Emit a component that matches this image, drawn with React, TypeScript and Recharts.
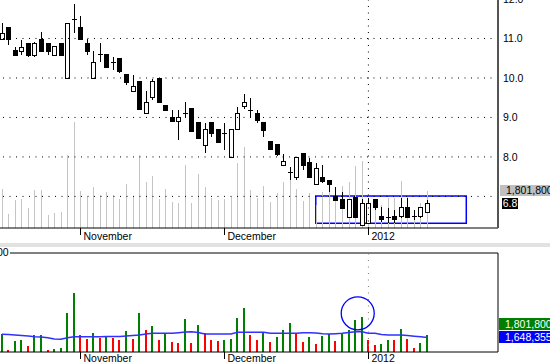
import {
  Bar,
  Cell,
  ComposedChart,
  Line,
  ReferenceArea,
  ReferenceDot,
  ReferenceLine,
  XAxis,
  YAxis,
} from 'recharts';

const FONT = '"Liberation Sans", Arial, sans-serif';

const dates = [
  '2011-10-14', '2011-10-17', '2011-10-18', '2011-10-19', '2011-10-20', '2011-10-21',
  '2011-10-24', '2011-10-25', '2011-10-26', '2011-10-27', '2011-10-28', '2011-10-31',
  '2011-11-01', '2011-11-02', '2011-11-03', '2011-11-04', '2011-11-07', '2011-11-08',
  '2011-11-09', '2011-11-10', '2011-11-11', '2011-11-14', '2011-11-15', '2011-11-16',
  '2011-11-17', '2011-11-18', '2011-11-21', '2011-11-22', '2011-11-23', '2011-11-24',
  '2011-11-25', '2011-11-28', '2011-11-29', '2011-11-30',
  '2011-12-01', '2011-12-02', '2011-12-05', '2011-12-06', '2011-12-07', '2011-12-08',
  '2011-12-09', '2011-12-12', '2011-12-13', '2011-12-14', '2011-12-15', '2011-12-16',
  '2011-12-19', '2011-12-20', '2011-12-21', '2011-12-22', '2011-12-23', '2011-12-26',
  '2011-12-27', '2011-12-28', '2011-12-29', '2011-12-30',
  '2012-01-02', '2012-01-03', '2012-01-04', '2012-01-05', '2012-01-06', '2012-01-09',
  '2012-01-10', '2012-01-11', '2012-01-12', '2012-01-13',
];

const opens = [
  10.99, 11.29, 10.71, 10.68, 10.89, 10.58, 10.99, 10.89, 10.58, 10.89,
  10.0, 11.48, 11.29, 10.89, 10.0, 10.61, 10.61, 10.41, 10.51, 10.1,
  9.67, 9.92, 9.11, 9.52, 10.0, 9.32, 9.01, 8.91, 9.11, 9.24,
  8.89, 8.3, 8.89, 8.71, 8.61, 8.0, 8.71, 9.29, 9.19, 9.11,
  8.89, 8.41, 8.33, 7.8, 7.62, 7.49, 8.1, 7.87, 7.32, 7.49,
  7.42, 7.01, 6.94, 6.48, 6.99, 6.28, 6.33, 6.94, 6.51, 6.48,
  6.51, 6.51, 6.73, 6.51, 6.51, 6.61,
];
const highs = [
  11.39, 11.29, 10.78, 10.96, 10.89, 10.91, 11.16, 10.89, 10.81, 10.89,
  11.39, 11.87, 11.57, 10.99, 10.68, 10.89, 10.61, 10.53, 10.51, 10.1,
  10.08, 9.92, 9.67, 9.97, 10.0, 9.32, 9.19, 9.19, 9.39, 9.24,
  8.89, 8.86, 8.89, 8.71, 8.86, 8.71, 9.27, 9.59, 9.49, 9.19,
  8.89, 8.41, 8.33, 8.08, 7.75, 8.0, 8.1, 7.97, 7.85, 7.8,
  7.42, 7.24, 7.11, 6.94, 6.99, 6.94, 6.96, 6.94, 6.73, 6.71,
  6.66, 6.96, 6.96, 6.66, 6.73, 6.91,
];
const lows = [
  10.98, 10.84, 10.58, 10.58, 10.53, 10.53, 10.68, 10.58, 10.58, 10.58,
  10.0, 11.14, 10.99, 10.58, 10.0, 10.41, 10.28, 10.2, 10.13, 9.82,
  9.67, 9.22, 9.11, 9.44, 9.37, 9.19, 8.91, 8.43, 9.01, 8.66,
  8.48, 8.1, 8.51, 8.38, 8.18, 8.0, 8.71, 9.22, 8.99, 8.86,
  8.51, 8.2, 8.03, 7.8, 7.42, 7.42, 7.67, 7.49, 7.32, 7.34,
  7.11, 6.91, 6.71, 6.48, 6.48, 6.28, 6.33, 6.66, 6.36, 6.33,
  6.33, 6.46, 6.46, 6.41, 6.46, 6.61,
];
const closes = [
  11.14, 10.99, 10.58, 10.78, 10.58, 10.89, 10.68, 10.68, 10.81, 10.58,
  11.39, 11.5, 10.99, 10.68, 10.41, 10.6, 10.28, 10.4, 10.18, 9.9,
  9.8, 9.22, 9.39, 9.92, 9.39, 9.19, 8.91, 9.01, 9.1, 8.66,
  8.48, 8.71, 8.61, 8.38, 8.6, 8.71, 9.11, 9.39, 9.18, 8.94,
  8.68, 8.2, 8.08, 7.9, 7.61, 8.0, 7.8, 7.49, 7.72, 7.39,
  7.32, 6.91, 6.71, 6.94, 6.48, 6.84, 6.84, 6.73, 6.43, 6.49,
  6.43, 6.73, 6.48, 6.5, 6.73, 6.84,
];

const volumes = [
  1920000, 680000, 1355000, 1410000, 955000, 1830000, 1830000, 630000, 735000, 800000,
  3560000, 5180000, 1810000, 1515000, 2010000, 1585000, 1730000, 1625000, 1435000, 2165000,
  1505000, 3575000, 2250000, 2550000, 1410000, 1915000, 1280000, 1200000, 3070000, 1225000,
  2610000, 2000000, 1465000, 1350000, 1430000, 1515000, 3160000, 3960000, 1855000, 1455000,
  2065000, 1265000, 1680000, 2230000, 2820000, 1918000, 1312000, 1706000, 1107000, 1761000,
  1918000, 1390000, 2021000, 2234000, 3022000, 3282000, 1446000, 1052000, 1130000, 1446000,
  1446000, 2312000, 1524000, 839000, 1233000, 1801800,
];
// 1 = green volume bar, 0 = red
const volumeUp = [
  1, 0, 1, 1, 0, 1, 1, 0, 1, 1,
  1, 1, 0, 0, 1, 0, 1, 0, 0, 1,
  0, 1, 0, 1, 0, 1, 0, 0, 1, 0,
  1, 0, 0, 0, 1, 1, 1, 1, 0, 0,
  1, 0, 1, 1, 1, 0, 0, 1, 0, 1,
  1, 0, 1, 1, 1, 1, 0, 0, 1, 1,
  0, 1, 0, 0, 1, 1,
];
const volumeAvg = [
  1895000, 1879000, 1840000, 1800000, 1761000, 1706000, 1682000, 1627000, 1524000, 1501000,
  1627000, 1706000, 1706000, 1706000, 1706000, 1706000, 1721000, 1721000, 1721000, 1761000,
  1800000, 1840000, 1918000, 1974000, 1974000, 1974000, 1974000, 2021000, 2076000, 2100000,
  2037000, 1918000, 1918000, 1918000, 1918000, 1918000, 2052000, 2052000, 2052000, 2052000,
  2052000, 1974000, 1974000, 1974000, 1974000, 1974000, 2021000, 2021000, 1997000, 1942000,
  1918000, 1942000, 1974000, 2037000, 2100000, 2100000, 1974000, 1974000, 1879000, 1840000,
  1840000, 1840000, 1800000, 1745000, 1698000, 1648355,
];

const blankSlots = 10;
const priceTicks = [8, 9, 10, 11, 12];
const gridPrices = [7, 8, 9, 10, 11];
const monthTickIdx = [12, 34, 56];
const monthLabels = ['November', 'December', '2012'];

const table = Array.from({ length: dates.length + blankSlots }, (_, i) =>
  i < dates.length
    ? {
        i,
        date: dates[i],
        o: opens[i],
        h: highs[i],
        l: lows[i],
        c: closes[i],
        vol: volumes[i],
        up: volumeUp[i] === 1,
        avg: volumeAvg[i],
      }
    : { i },
);

function Candle(props: any) {
  const { x, y, width, height, payload } = props;
  if (!payload || payload.o == null) return <g />;
  const { o, h, l, c } = payload;
  const top = Math.min(y, y + height);
  const span = Math.abs(height);
  const py = (v: number) => (h === l ? top : top + ((h - v) / (h - l)) * span);
  const left = Math.round(x + width / 2 - 2.5);
  const mid = left + 2.5;
  const bTop = py(Math.max(o, c));
  const bBot = py(Math.min(o, c));
  return (
    <g shapeRendering="crispEdges">
      <line x1={mid} x2={mid} y1={top} y2={top + span} stroke="#000" />
      {bBot - bTop < 1.5 ? (
        <line x1={left} x2={left + 5} y1={Math.round(bTop) + 0.5} y2={Math.round(bTop) + 0.5} stroke="#000" />
      ) : (
        <rect
          x={left + 0.5}
          y={Math.round(bTop) + 0.5}
          width={4}
          height={Math.max(1, Math.round(bBot - bTop))}
          fill={c >= o ? '#fff' : '#000'}
          stroke="#000"
        />
      )}
    </g>
  );
}

function GreyVolume(props: any) {
  const { x, y, width, height, payload } = props;
  if (!payload || payload.vol == null) return <g />;
  const px = Math.round(x + width / 2 - 2.5) + 2;
  return <rect x={px} y={y} width={1} height={height} fill="#c4c4c4" shapeRendering="crispEdges" />;
}

function ColorVolume(props: any) {
  const { x, y, width, height, payload } = props;
  if (!payload || payload.vol == null) return <g />;
  const px = Math.round(x + width / 2 - 1);
  return (
    <rect
      x={px}
      y={y}
      width={2}
      height={height}
      fill={payload.up ? '#008000' : '#ff0000'}
      shapeRendering="crispEdges"
    />
  );
}

function MonthTick({ x, y, payload, textDy }: any) {
  const k = monthTickIdx.indexOf(payload.value);
  return (
    <g>
      <line x1={Math.round(x) + 0.5} x2={Math.round(x) + 0.5} y1={y} y2={y + 7} stroke="#000" />
      <text x={x + 3} y={y + textDy} fontSize={10.5} fontFamily={FONT} fill="#000">
        {monthLabels[k]}
      </text>
    </g>
  );
}

const boxText = {
  position: 'absolute' as const,
  fontSize: 10.5,
  lineHeight: '11px',
  fontFamily: FONT,
  whiteSpace: 'nowrap' as const,
};

export default function App() {
  return (
    <div
      style={{
        position: 'absolute',
        left: 0,
        top: 0,
        width: 550,
        height: 364,
        overflow: 'hidden',
        background: '#fff',
        fontFamily: FONT,
      }}
    >
      <div style={{ position: 'absolute', left: -2, top: -1 }}>
        <ComposedChart width={552} height={251} data={table} margin={{ top: 0, right: 0, bottom: 0, left: 0.7 }}>
          <XAxis
            dataKey="i"
            type="category"
            padding={{ left: 0, right: 2 }}
            ticks={monthTickIdx}
            interval={0}
            height={22}
            tickSize={0}
            tickMargin={0}
            tickLine={false}
            axisLine={{ stroke: '#000' }}
            tick={<MonthTick textDy={12} />}
          />
          <XAxis xAxisId="v" dataKey="i" type="category" padding={{ left: 0, right: 2 }} hide />
          <YAxis
            orientation="right"
            width={52}
            domain={[6.2, 12]}
            allowDataOverflow
            ticks={priceTicks}
            interval={0}
            tickSize={0}
            tickMargin={5}
            tickLine={false}
            axisLine={{ stroke: '#555', strokeWidth: 2 }}
            tickFormatter={(v) => Number(v).toFixed(1)}
            tick={{ fill: '#000', fontSize: 10.5, fontFamily: FONT }}
          />
          <YAxis yAxisId="v" domain={[0, 11150000]} allowDataOverflow hide />
          <Bar
            xAxisId="v"
            yAxisId="v"
            dataKey="vol"
            barSize={1}
            shape={<GreyVolume />}
            isAnimationActive={false}
          />
          {gridPrices.map((p) => (
            <ReferenceLine key={p} y={p} stroke="#000" strokeDasharray="1 5.5" />
          ))}
          <ReferenceLine x={56} stroke="#000" strokeDasharray="1 5.5" />
          <Bar
            dataKey={(d: any) => (d.h == null ? null : [d.l, d.h])}
            barSize={5}
            shape={<Candle />}
            isAnimationActive={false}
          />
          <ReferenceArea
            x1={48}
            x2={70}
            y1={6.32}
            y2={7.01}
            shape={(p: any) => (
              <rect x={p.x + 3} y={p.y} width={p.width} height={p.height} fill="none" stroke="#0000ff" strokeWidth={1.5} />
            )}
          />
        </ComposedChart>
      </div>

      <div style={{ position: 'absolute', left: 0, top: 243, width: 550, height: 4, background: '#e2e2e2' }} />

      <div style={{ position: 'absolute', left: -2, top: 252 }}>
        <ComposedChart width={552} height={112} data={table} margin={{ top: 1, right: 0, bottom: 0, left: 0.7 }}>
          <XAxis
            dataKey="i"
            type="category"
            padding={{ left: 0, right: 2 }}
            ticks={monthTickIdx}
            interval={0}
            height={12}
            tickSize={0}
            tickMargin={0}
            tickLine={false}
            axisLine={{ stroke: '#000' }}
            tick={<MonthTick textDy={10} />}
          />
          <YAxis
            orientation="right"
            width={52}
            domain={[500000, 8300000]}
            allowDataOverflow
            tick={false}
            tickLine={false}
            axisLine={{ stroke: '#000' }}
          />
          <ReferenceLine y={8300000} stroke="#000" />
          <ReferenceLine x={56} stroke="#777" strokeDasharray="1 5.5" />
          <Bar dataKey="vol" barSize={2} shape={<ColorVolume />} isAnimationActive={false}>
            {table.map((d: any) => (
              <Cell key={d.i} fill={d.up ? '#008000' : '#ff0000'} />
            ))}
          </Bar>
          <Line
            dataKey="avg"
            type="linear"
            stroke="#3030ff"
            strokeWidth={1.6}
            dot={false}
            activeDot={false}
            isAnimationActive={false}
          />
          <ReferenceDot
            x={54}
            y={3550000}
            r={16.5}
            shape={(p: any) => (
              <circle cx={p.cx + 2.4} cy={p.cy} r={16.5} fill="none" stroke="#0000ff" strokeWidth={1.3} />
            )}
          />
        </ComposedChart>
      </div>

      <div style={{ ...boxText, left: -3, top: 247, background: '#fff', paddingRight: 1, color: '#000' }}>00</div>

      <div style={{ ...boxText, left: 500, top: 185, width: 50, height: 11, background: '#c0c0c0', color: '#000', paddingLeft: 6, boxSizing: 'border-box' }}>
        1,801,800
      </div>
      <div style={{ ...boxText, left: 502, top: 198, width: 16, height: 11, background: '#000', color: '#fff', textAlign: 'center' }}>
        6.8
      </div>
      <div style={{ ...boxText, left: 499, top: 318, width: 51, height: 12, lineHeight: '12px', background: '#008000', color: '#fff', paddingLeft: 6, boxSizing: 'border-box' }}>
        1,801,800
      </div>
      <div style={{ ...boxText, left: 499, top: 331, width: 51, height: 12, lineHeight: '12px', background: '#0000ff', color: '#fff', paddingLeft: 6, boxSizing: 'border-box' }}>
        1,648,355
      </div>
    </div>
  );
}
